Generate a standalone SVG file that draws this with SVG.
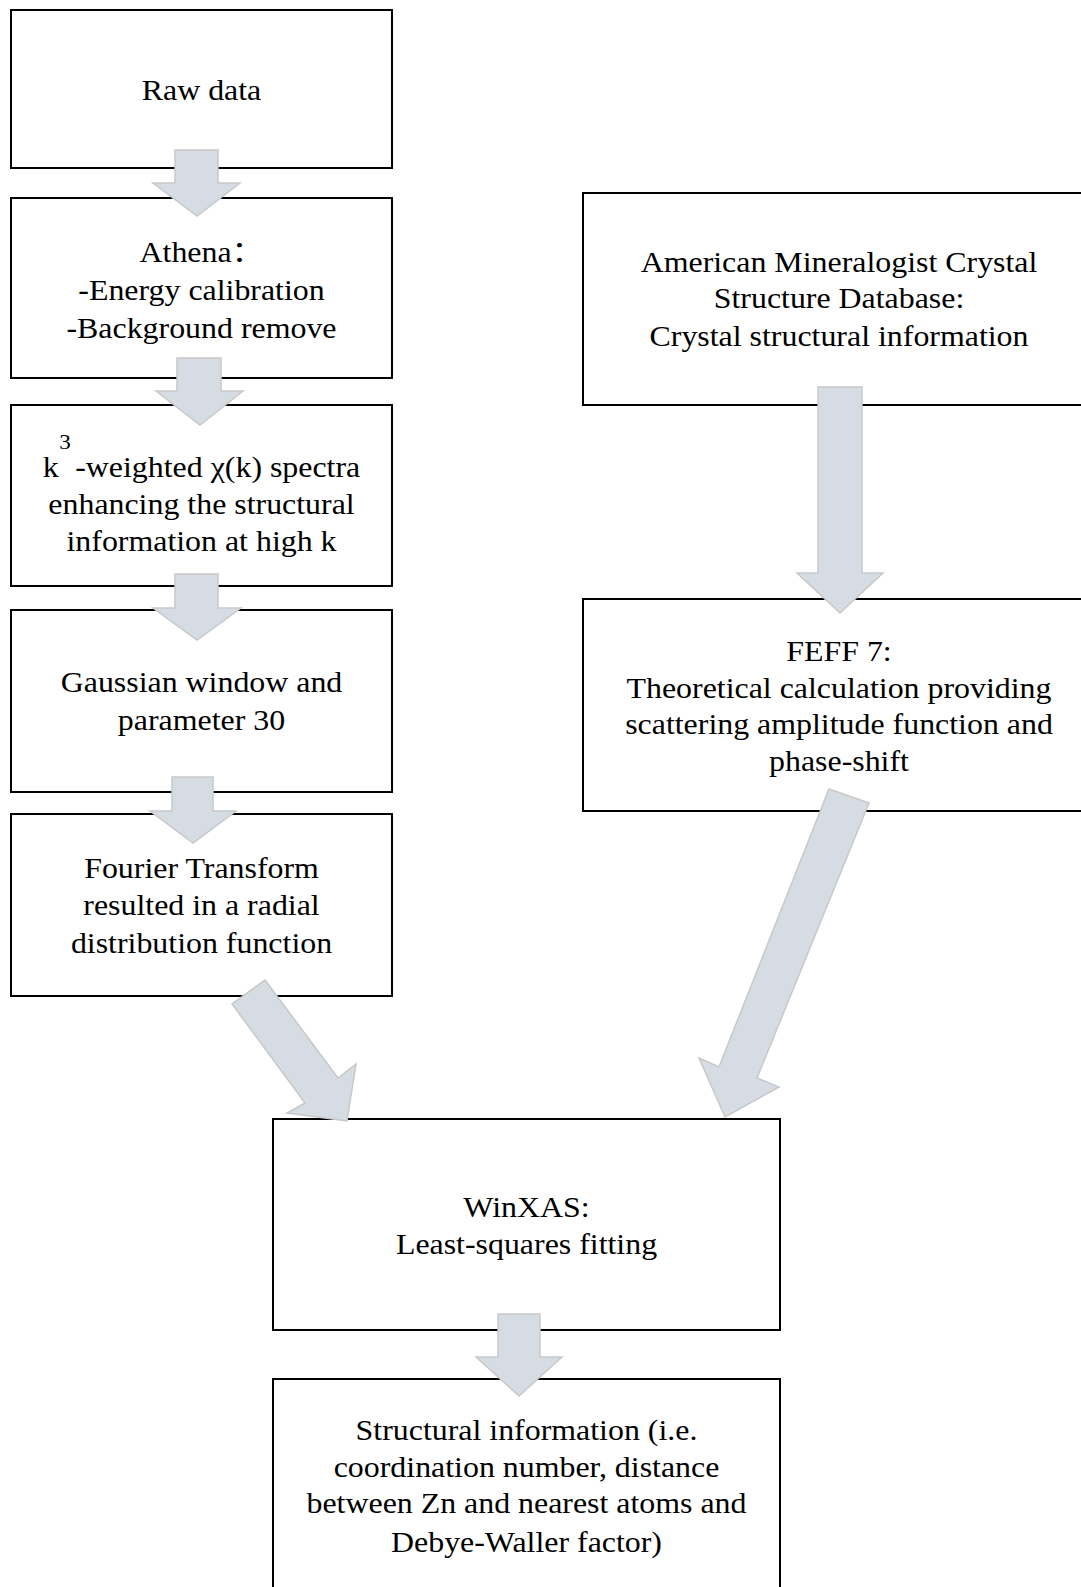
<svg xmlns="http://www.w3.org/2000/svg" width="1081" height="1587" viewBox="0 0 1081 1587">
<style>
.box{fill:#ffffff;stroke:#000000;stroke-width:2}
.t{font-family:"Liberation Serif","Times New Roman","Noto Sans CJK SC",serif;font-size:29px;fill:#000000;text-anchor:middle}
.arr{fill:#D5DCE4;stroke:#C8C8C8;stroke-width:1.5;stroke-linejoin:miter}
</style>
<rect x="0" y="0" width="1081" height="1587" fill="#ffffff"/>
<g id="nodes">
<g id="raw">
<rect class="box" x="11" y="10" width="381" height="158"/>
<text class="t" transform="translate(201.5 0) scale(1.1 1)" x="0" y="100">Raw data</text>
</g>
<g id="athena">
<rect class="box" x="11" y="198" width="381" height="180"/>
<text class="t" transform="translate(201.5 0) scale(1.1 1)" x="0" y="262">Athena：</text>
<text class="t" transform="translate(201.5 0) scale(1.1 1)" x="0" y="300"> -Energy calibration</text>
<text class="t" transform="translate(201.5 0) scale(1.1 1)" x="0" y="338">-Background remove</text>
</g>
<g id="k3">
<rect class="box" x="11" y="405" width="381" height="181"/>
<text class="t" transform="translate(201.5 0) scale(1.1 1)" x="0" y="477">k<tspan dx="0.5" dy="-28" font-size="21">3</tspan><tspan dx="4" dy="28">-weighted χ(k) spectra</tspan></text>
<text class="t" transform="translate(201.5 0) scale(1.1 1)" x="0" y="514">enhancing the structural</text>
<text class="t" transform="translate(201.5 0) scale(1.1 1)" x="0" y="551">information at high k</text>
</g>
<g id="gauss">
<rect class="box" x="11" y="610" width="381" height="182"/>
<text class="t" transform="translate(201.5 0) scale(1.1 1)" x="0" y="692">Gaussian window and</text>
<text class="t" transform="translate(201.5 0) scale(1.1 1)" x="0" y="730">parameter 30</text>
</g>
<g id="fourier">
<rect class="box" x="11" y="814" width="381" height="182"/>
<text class="t" transform="translate(201.5 0) scale(1.1 1)" x="0" y="878">Fourier Transform</text>
<text class="t" transform="translate(201.5 0) scale(1.1 1)" x="0" y="915">resulted in a radial</text>
<text class="t" transform="translate(201.5 0) scale(1.1 1)" x="0" y="953">distribution function</text>
</g>
<g id="amcsd">
<rect class="box" x="583" y="193" width="520" height="212"/>
<text class="t" transform="translate(839 0) scale(1.1 1)" x="0" y="272">American Mineralogist Crystal</text>
<text class="t" transform="translate(839 0) scale(1.1 1)" x="0" y="308">Structure Database:</text>
<text class="t" transform="translate(839 0) scale(1.1 1)" x="0" y="346"> Crystal structural information</text>
</g>
<g id="feff">
<rect class="box" x="583" y="599" width="520" height="212"/>
<text class="t" transform="translate(839 0) scale(1.1 1)" x="0" y="661">FEFF 7:</text>
<text class="t" transform="translate(839 0) scale(1.1 1)" x="0" y="698">Theoretical calculation providing</text>
<text class="t" transform="translate(839 0) scale(1.1 1)" x="0" y="734">scattering amplitude function and</text>
<text class="t" transform="translate(839 0) scale(1.1 1)" x="0" y="771">phase-shift</text>
</g>
<g id="winxas">
<rect class="box" x="273" y="1119" width="507" height="211"/>
<text class="t" transform="translate(526.5 0) scale(1.1 1)" x="0" y="1217">WinXAS:</text>
<text class="t" transform="translate(526.5 0) scale(1.1 1)" x="0" y="1254">Least-squares fitting</text>
</g>
<g id="result">
<rect class="box" x="273" y="1379" width="507" height="260"/>
<text class="t" transform="translate(526.5 0) scale(1.1 1)" x="0" y="1440">Structural information (i.e.</text>
<text class="t" transform="translate(526.5 0) scale(1.1 1)" x="0" y="1477">coordination number, distance</text>
<text class="t" transform="translate(526.5 0) scale(1.1 1)" x="0" y="1513">between Zn and nearest atoms and</text>
<text class="t" transform="translate(526.5 0) scale(1.1 1)" x="0" y="1552">Debye-Waller factor)</text>
</g>
</g>
<g id="connectors">
<polygon class="arr" points="175,150 218,150 218,183 240,183 197,216 153,183 175,183"/>
<polygon class="arr" points="177,358 221,358 221,391 243,391 200,425 156,391 177,391"/>
<polygon class="arr" points="175,574 218,574 218,608 241,608 197,640 153,608 175,608"/>
<polygon class="arr" points="172,777 213,777 213,811 236,811 193,843 150,811 172,811"/>
<polygon class="arr" points="818,387 862,387 862,573 883,573 840,613 797,573 818,573"/>
<polygon class="arr" points="498,1314 540,1314 540,1357 562,1357 519,1396 476,1357 498,1357"/>
<polygon class="arr" points="265,980 338,1078 356,1064 347,1121 287,1113 305,1103 232,1004"/>
<polygon class="arr" points="829,789 869,803 757,1078 779,1087 725,1117 699,1058 719,1067"/>
</g>
</svg>
